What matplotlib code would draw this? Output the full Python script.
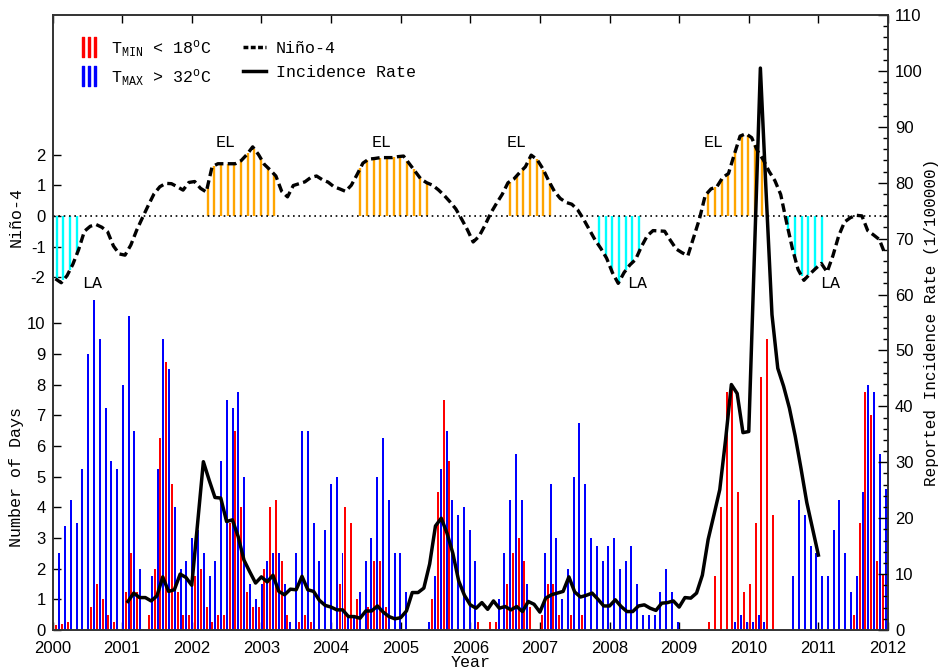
import numpy as np
import matplotlib.pyplot as plt
from matplotlib.lines import Line2D
from matplotlib.ticker import MultipleLocator

plt.rcParams['font.family'] = 'Liberation Sans'
plt.rcParams['mathtext.default'] = 'regular'
MONO = 'Liberation Mono'

# monthly day counts, Jan 2000 .. Dec 2011
tmax_days = [2.5, 3.4, 4.25, 3.5, 5.25, 9.0, 10.75, 9.5, 7.25, 5.5, 5.25, 8.0,
             10.25, 6.5, 2.0, 0, 1.75, 5.25, 9.5, 8.5, 4.0, 2.0, 2.25, 3.0,
             3.25, 2.5, 1.75, 2.25, 5.5, 7.5, 7.25, 7.75, 5.0, 1.5, 1.0, 1.5,
             2.25, 2.5, 2.5, 1.5, 0.25, 2.5, 6.5, 6.5, 3.5, 2.25, 3.25, 4.75,
             5.0, 2.5, 0.5, 0.5, 1.25, 2.25, 3.0, 5.0, 6.25, 4.25, 2.5, 2.5,
             1.25, 0, 0, 0, 0.25, 1.75, 5.25, 6.5, 4.25, 3.75, 4.0, 3.25,
             2.25, 0, 0, 0, 1.0, 2.5, 4.25, 5.75, 4.25, 1.5, 0, 0,
             2.5, 4.75, 3.0, 1.0, 2.0, 5.0, 6.75, 4.75, 3.0, 2.75, 2.25, 2.75,
             3.0, 2.0, 2.25, 2.75, 1.5, 0.5, 0.5, 0.5, 1.25, 2.0, 1.25, 0.25,
             0, 0, 0, 0, 0, 0, 0, 0, 0, 0.25, 0.5, 0.25,
             0.25, 0.5, 0.25, 0, 0, 0, 0, 1.75, 4.25, 3.75, 2.75, 2.5,
             1.75, 1.75, 3.25, 4.25, 2.5, 1.25, 1.75, 4.5, 8.0, 7.75, 5.75, 4.6]
tmin_days = [0.15, 0.2, 0.25, 0, 0, 0, 0.75, 1.5, 1.0, 0.5, 0.25, 0,
             1.25, 2.5, 1.25, 0, 0.5, 2.0, 6.25, 8.75, 4.75, 1.25, 0.5, 0.5,
             1.75, 2.0, 0.75, 0.25, 0.5, 0.5, 3.5, 6.5, 4.0, 1.25, 0.75, 0.75,
             2.0, 4.0, 4.25, 2.25, 0.5, 0, 0.25, 0.5, 0.25, 0, 0, 0,
             0, 1.5, 4.0, 3.5, 1.0, 0, 0.75, 2.25, 2.25, 0.75, 0, 0,
             0, 0, 0, 0, 0, 1.0, 4.5, 7.5, 5.5, 0, 0, 0,
             0, 0.25, 0, 0.25, 0.25, 0, 1.5, 2.5, 3.0, 2.25, 0.75, 0,
             0.5, 1.5, 1.5, 0.5, 0, 0.5, 0, 0.5, 0, 0, 0, 0,
             0, 0, 0, 0, 0, 0, 0, 0, 0, 0, 0, 0,
             0, 0, 0, 0, 0, 0.25, 1.75, 4.0, 7.75, 8.0, 4.5, 1.25,
             1.5, 3.5, 8.25, 9.5, 3.75, 0, 0, 0, 0, 0, 0, 0,
             0, 0, 0, 0, 0, 0, 0.5, 3.5, 7.75, 7.0, 2.25, 1.8, 1.35]

# reported incidence rate (1/100000), Feb 2001 .. Jan 2011
incidence = [5.1, 6.6, 5.8, 5.8, 5.2, 6.1, 9.5, 6.9, 7.2, 10.0, 9.4, 8.0,
             19.0, 30.1, 26.8, 23.7, 23.6, 19.4, 19.7, 16.7, 12.5, 10.4, 8.4, 9.5,
             8.6, 9.8, 6.9, 6.3, 7.3, 7.2, 9.6, 7.2, 6.9, 5.3, 4.4, 4.1,
             3.6, 3.6, 2.4, 2.4, 2.1, 3.4, 3.4, 4.3, 3.2, 2.4, 2.0, 2.2,
             3.4, 6.7, 6.7, 7.5, 11.8, 18.6, 20.0, 17.3, 13.7, 8.8, 6.2, 4.5,
             3.9, 4.9, 3.7, 5.2, 3.9, 4.2, 3.6, 4.2, 3.3, 5.1, 4.6, 3.2,
             5.7, 6.3, 6.6, 6.9, 9.5, 6.8, 5.9, 6.2, 6.6, 5.5, 4.3, 4.3,
             5.4, 4.2, 3.3, 3.3, 4.3, 4.5, 3.9, 3.5, 4.8, 4.9, 5.2, 4.1,
             5.8, 5.7, 6.6, 9.8, 16.2, 20.6, 25.1, 34.0, 43.9, 42.3, 35.3, 35.5,
             68.0, 100.5, 78.0, 56.4, 46.8, 43.6, 39.7, 34.7, 28.9, 22.8, 18.1, 13.4]

# Nino-4 index, monthly Jan 2000 .. Dec 2011
nino4 = [-2.05, -2.18, -1.95, -1.58, -1.1, -0.5, -0.34, -0.28, -0.37, -0.52, -0.98, -1.24,
         -1.28, -0.95, -0.47, -0.06, 0.34, 0.72, 0.95, 1.06, 1.05, 0.95, 0.84, 1.09,
         1.12, 0.9, 0.78, 1.6, 1.7, 1.7, 1.7, 1.7, 1.8, 2.0, 2.25, 2.0,
         1.68, 1.5, 1.3, 0.8, 0.62, 0.99, 1.05, 1.11, 1.25, 1.3, 1.18, 1.1,
         0.95, 0.88, 0.8, 1.0, 1.35, 1.72, 1.85, 1.87, 1.9, 1.9, 1.9, 1.93,
         1.95, 1.7, 1.45, 1.2, 1.08, 1.0, 0.85, 0.67, 0.46, 0.23, -0.1, -0.45,
         -0.85, -0.67, -0.32, 0.08, 0.4, 0.7, 1.08, 1.2, 1.41, 1.6, 1.98, 1.84,
         1.54, 1.15, 0.8, 0.57, 0.44, 0.38, 0.2, -0.1, -0.44, -0.78, -1.06, -1.38,
         -1.85, -2.2, -1.85, -1.6, -1.42, -1.0, -0.65, -0.48, -0.49, -0.5, -0.8, -1.08,
         -1.2, -1.3, -0.7, -0.1, 0.67, 0.88, 0.95, 1.25, 1.38, 2.0, 2.6, 2.68,
         2.55, 2.12, 1.83, 1.45, 1.15, 0.7, -0.2, -1.05, -1.75, -2.1, -1.9, -1.72,
         -1.55, -1.83, -1.3, -0.65, -0.2, -0.06, 0.02, 0.0, -0.48, -0.62, -0.77, -1.25]

# El Nino / La Nina episodes (start, end in years)
el_events = [(2002.23, 2003.20), (2004.42, 2005.45), (2006.57, 2007.15), (2009.42, 2010.28)]
la_events = [(2000.06, 2000.43), (2007.85, 2008.45), (2010.57, 2011.14)]

years = np.arange(2000, 2013)
nino_base = 13.5  # Nino-4 zero on the day axis

blue_t = 2000.098 + np.arange(len(tmax_days)) * 0.0830
red_t = 2000.055 + np.arange(len(tmin_days)) * 0.0830
inc_t = 2001 + (np.arange(len(incidence)) + 1) / 12
nino_t = 2000 + (np.arange(len(nino4)) + 0.5) / 12
nino_v = np.array(nino4)

fig = plt.figure(figsize=(9.41, 6.71), dpi=100)
ax = fig.add_axes([0.0558, 0.0611, 0.8879, 0.9166])
ax2 = ax.twinx()

ax.bar(blue_t, tmax_days, width=0.0287, color='#0000ff', linewidth=0,
       antialiased=False, zorder=2)
ax.bar(red_t, tmin_days, width=0.0287, color='#ff0000', linewidth=0,
       antialiased=False, zorder=2)

# hatched episodes
for events, col in [(el_events, '#ffa500'), (la_events, '#00ffff')]:
    for a, b in events:
        ts = np.arange(a, b + 1e-6, 0.0958)
        hs = np.interp(ts, nino_t, nino_v)
        ax.vlines(ts, nino_base, nino_base + hs, color=col, lw=1.7, zorder=2)

ax.axhline(nino_base, color='k', ls=(0, (1, 2.2)), lw=1.2, zorder=3)
ax.plot(nino_t, nino_base + nino_v, color='k', ls=(0, (2.6, 1.3)), lw=2.4, zorder=4)

ax2.plot(inc_t, incidence, color='k', lw=2.5, zorder=5)

for x, lab in [(2002.48, 'EL'), (2004.73, 'EL'), (2006.66, 'EL'), (2009.49, 'EL')]:
    ax.text(x, 15.88, lab, family=MONO, fontsize=12, ha='center', va='center')
for x, lab in [(2000.57, 'LA'), (2008.40, 'LA'), (2011.17, 'LA')]:
    ax.text(x, 11.28, lab, family=MONO, fontsize=12, ha='center', va='center')

ax.set_xlim(2000, 2012)
ax.set_ylim(0, 20.05)
ax2.set_ylim(0, 110)
ax.set_xticks(years)
ax.set_xticklabels([str(y) for y in years])
ax.set_yticks(list(range(11)) + [nino_base + v for v in (-2, -1, 0, 1, 2)])
ax.set_yticklabels([str(v) for v in range(11)] + ['-2', '-1', '0', '1', '2'])
ax2.set_yticks(np.arange(0, 111, 10))
ax2.yaxis.set_minor_locator(MultipleLocator(2))

ax.tick_params(axis='y', direction='in', length=6, width=1, labelsize=12, pad=5)
ax.tick_params(axis='x', direction='in', top=True, length=6, width=1, labelsize=12, pad=8)
ax2.tick_params(which='major', direction='in', length=7, width=1, labelsize=12, pad=5)
ax2.tick_params(which='minor', direction='in', length=3.5, width=1)
for a in (ax, ax2):
    for s in a.spines.values():
        s.set_linewidth(1.2)
        s.set_color('#333333')

ax.set_xlabel('Year', family=MONO, fontsize=12, labelpad=-1)
ax.text(-0.043, 0.249, 'Number of Days', transform=ax.transAxes, rotation=90,
        family=MONO, fontsize=12, ha='center', va='center')
ax.text(-0.043, 0.672, 'Niño-4', transform=ax.transAxes, rotation=90,
        family=MONO, fontsize=12, ha='center', va='center')
ax2.set_ylabel('Reported Incidence Rate (1/100000)', family=MONO, fontsize=11.5, labelpad=1)

handles = [Line2D([], [], color='#ff0000', marker='$|||$', ls='none', markersize=15),
           Line2D([], [], color='#0000ff', marker='$|||$', ls='none', markersize=15),
           Line2D([], [], color='k', ls=(0, (1.4, 0.7)), lw=2.5),
           Line2D([], [], color='k', lw=2.5)]
labels = [r'T$_{MIN}$ < 18$^{o}$C', r'T$_{MAX}$ > 32$^{o}$C', 'Niño-4', 'Incidence Rate']
ax2.legend(handles, labels, loc='upper left', bbox_to_anchor=(0.012, 0.987), ncol=2,
           frameon=False, prop={'family': MONO, 'size': 12}, handlelength=1.4,
           handletextpad=0.6, columnspacing=1.9, labelspacing=0.5)

fig.savefig('out.png', dpi=100)
